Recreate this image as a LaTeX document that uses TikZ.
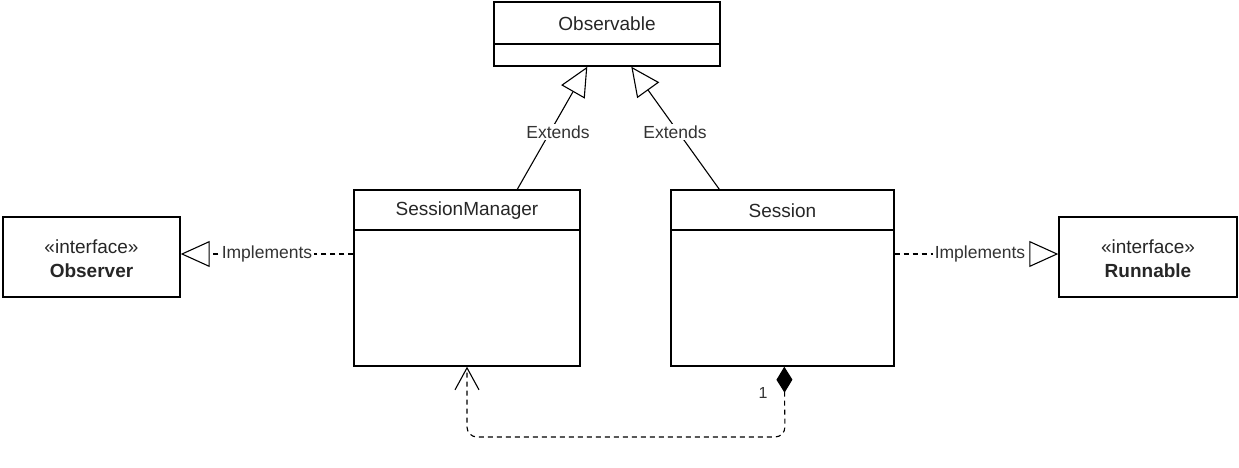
\documentclass[tikz,border=0pt]{standalone}
\usepackage{fontspec}
\setmainfont{Liberation Sans}
\usetikzlibrary{arrows.meta,calc}
\begin{document}
\begin{tikzpicture}[x=1pt,y=-1pt,
  box/.style={draw,line width=1.4pt,rectangle,inner sep=0pt},
  ttl/.style={font=\fontsize{19}{22}\selectfont,inner sep=0pt,text=black!85},
  lbl/.style={font=\fontsize{17.5}{20}\selectfont,fill=white,inner sep=1.5pt,text=black!80},
  conn/.style={line width=1.1pt},
  dsh/.style={conn,dash pattern=on 5pt off 4pt},
  realize/.style={-{Triangle[open,length=29pt,width=26pt,line width=1.1pt]}},
  inherit/.style={-{Triangle[open,length=29pt,width=27pt,line width=1.1pt]}}
]
\useasboundingbox (0,0) rectangle (1239,468);
% classes
\node[box,minimum width=226pt,minimum height=64pt] (obs) at (607,34) {};
\draw[line width=1.4pt] (obs.west |- 0,44) -- (obs.east |- 0,44);
\node[ttl] (obst) at (607,24) {Observable};

\node[box,minimum width=226pt,minimum height=176pt] (sm) at (467,278) {};
\draw[line width=1.4pt] (sm.west |- 0,230) -- (sm.east |- 0,230);
\node[ttl] (smt) at (467,211) {SessionManager};

\node[box,minimum width=223pt,minimum height=176pt] (ses) at (782.5,278) {};
\draw[line width=1.4pt] (ses.west |- 0,230) -- (ses.east |- 0,230);
\node[ttl] (sest) at (782.5,211) {Session};

\node[box,minimum width=177pt,minimum height=80pt] (obsr) at (91.5,257) {};
\node[ttl] (obsr1) at (91.5,247) {«interface»};
\node[ttl,font=\fontsize{19}{22}\selectfont\bfseries] (obsr2) at (91.5,271) {Observer};

\node[box,minimum width=178pt,minimum height=80pt] (run) at (1148,257) {};
\node[ttl] (run1) at (1148,247) {«interface»};
\node[ttl,font=\fontsize{19}{22}\selectfont\bfseries] (run2) at (1148,271) {Runnable};

% implements
\coordinate (ly) at (0,254);
\draw[dsh,realize] (sm.west |- ly) -- (obsr.east |- ly);
\node[lbl] (il) at (267,254) {Implements};
\draw[dsh,realize] (ses.east |- ly) -- (run.west |- ly);
\node[lbl] (ir) at (980,254) {Implements};

% extends
\draw[conn,inherit] ($(sm.north west)+(164,0)$) -- ($(obs.south west)+(94,0)$);
\node[lbl] (el) at (558,132) {Extends};
\draw[conn,inherit] ($(ses.north west)+(49,0)$) -- ($(obs.south west)+(138,0)$);
\node[lbl] (er) at (675,132) {Extends};

% dependency / composition
\coordinate (c1) at (785,437);
\draw[dsh,rounded corners=10pt,{Diamond[length=26pt,width=16pt]}-{Straight Barb[length=22pt,width=24pt,line width=1.1pt]}]
  ($(ses.south west)+(114,0)$) -- (c1) -- (sm.south |- c1) -- (sm.south);
\node[font=\fontsize{16}{19}\selectfont,text=black!80,inner sep=0pt] (one) at (763,393) {1};
\end{tikzpicture}
\end{document}
